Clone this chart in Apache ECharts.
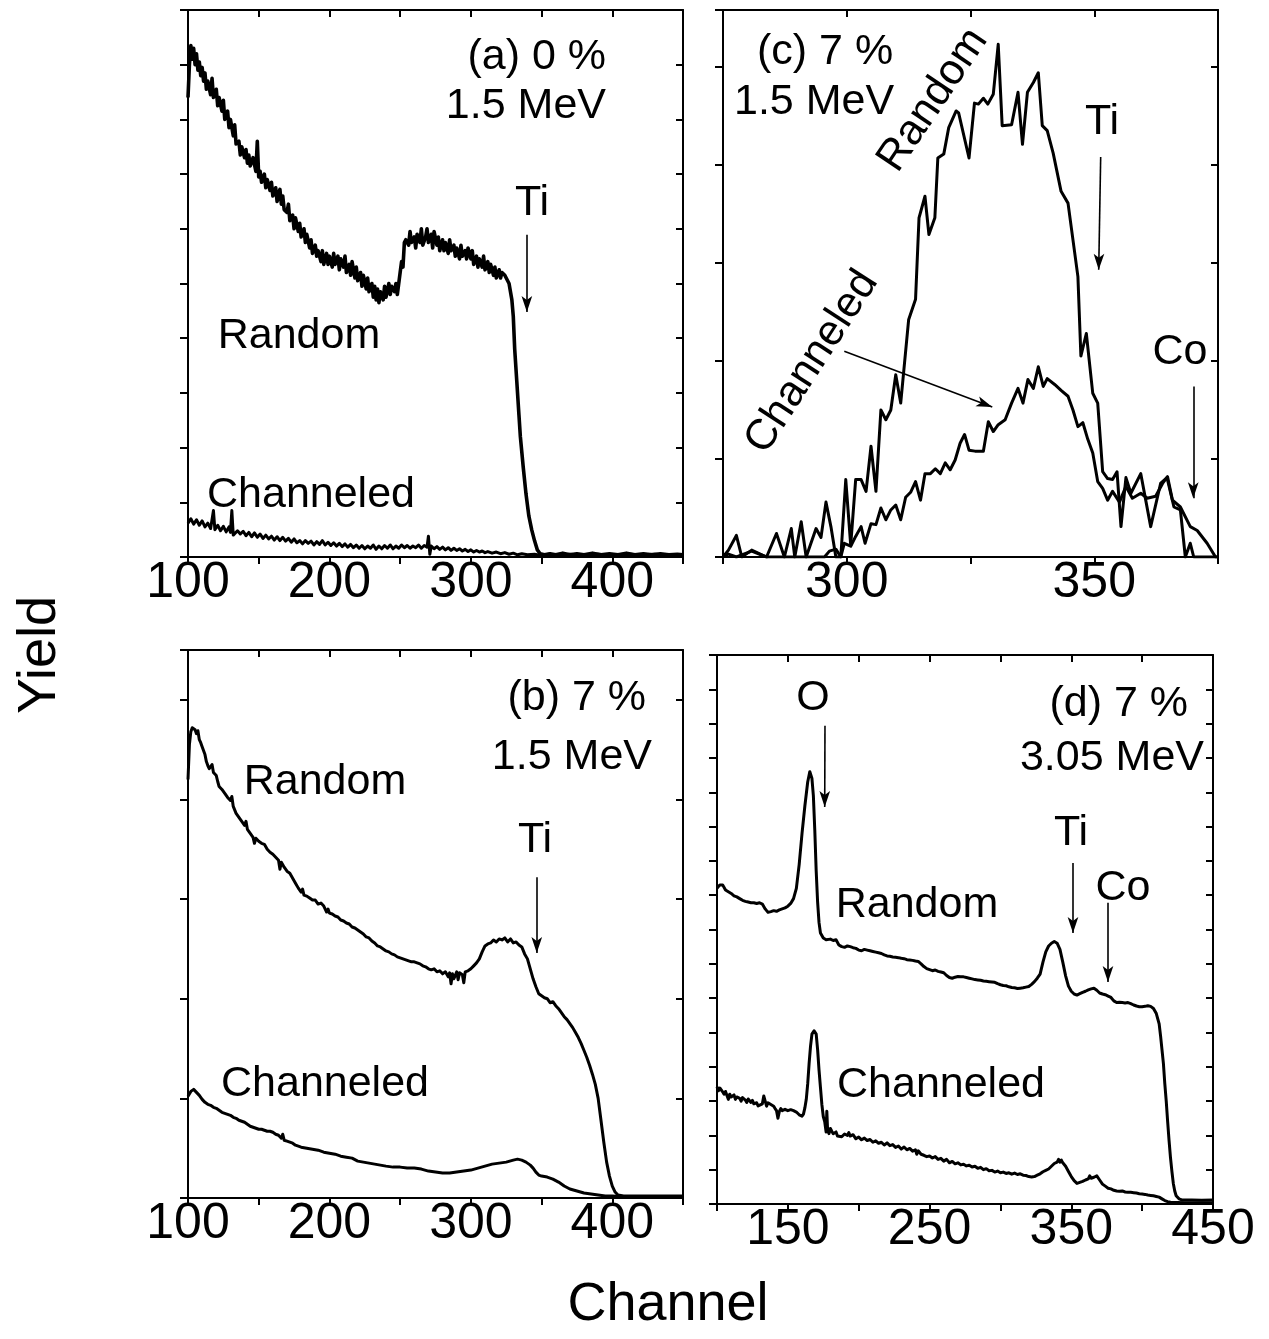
<!DOCTYPE html>
<html><head><meta charset="utf-8">
<script src="https://cdn.jsdelivr.net/npm/echarts@6/dist/echarts.min.js"></script>
<style>html,body{margin:0;padding:0;background:#fff}#c{width:1269px;height:1339px}</style>
</head><body><div id="c"></div>
<script>
// ---------- Panel (a): 0 %, 1.5 MeV ----------
const aRandom = [[100,8.4],[101,9.0],[102,9.35],[103,9.1],[104,9.3],[105,9.0],[106,9.2],[107,8.9],[108,9.05],[109,8.8],[110,8.95],[111,8.7],[112,8.85],[113,8.55],[114,8.7],[116,8.45],[117,8.75],[118,8.4],[120,8.55],[121,8.25],[122,8.4],[124,8.15],[125,8.35],[126,8.0],[128,8.15],[129,7.85],[130,8.0],[132,7.7],[133,7.9],[134,7.55],[136,7.6],[137,7.35],[138,7.5],[140,7.3],[141,7.45],[142,7.2],[143,7.35],[144,7.15],[146,7.3],[148,7.05],[149,7.6],[150,6.95],[151,7.05],[152,6.85],[154,7.0],[155,6.75],[156,6.9],[158,6.7],[159,6.85],[160,6.6],[162,6.75],[163,6.5],[164,6.65],[165,6.72],[166,6.45],[167,6.6],[168,6.35],[170,6.3],[171,6.45],[172,6.15],[174,6.25],[175,6.0],[176,6.2],[178,5.95],[179,6.1],[180,5.85],[182,6.0],[183,5.75],[184,5.9],[186,5.65],[187,5.8],[188,5.55],[190,5.7],[191,5.5],[192,5.6],[194,5.4],[195,5.6],[196,5.35],[198,5.55],[199,5.35],[200,5.5],[202,5.3],[203,5.55],[204,5.35],[206,5.5],[207,5.25],[208,5.45],[210,5.3],[211,5.5],[212,5.2],[214,5.35],[215,5.15],[216,5.4],[218,5.1],[219,5.3],[220,5.05],[222,5.2],[223,4.95],[224,5.15],[226,4.9],[227,5.1],[228,4.85],[230,5.0],[231,4.75],[232,4.95],[233,4.7],[234,4.9],[235,4.65],[236,4.85],[238,4.7],[239,4.95],[240,4.75],[242,5.0],[243,4.8],[244,4.95],[246,4.85],[247,5.0],[248,4.8],[250,5.2],[251,5.4],[252,5.3],[253,5.75],[254,5.8],[256,5.7],[257,5.95],[258,5.75],[260,5.85],[261,5.65],[262,5.9],[264,5.75],[265,6.0],[266,5.7],[268,5.85],[269,6.0],[270,5.75],[272,5.9],[273,5.65],[274,5.95],[276,5.7],[277,5.85],[278,5.6],[280,5.8],[281,5.6],[282,5.75],[284,5.55],[285,5.8],[286,5.6],[288,5.7],[289,5.5],[290,5.65],[292,5.45],[293,5.7],[294,5.5],[296,5.6],[297,5.45],[298,5.65],[300,5.45],[301,5.6],[302,5.35],[304,5.5],[305,5.3],[306,5.45],[308,5.3],[309,5.5],[310,5.25],[312,5.4],[313,5.2],[314,5.35],[316,5.15],[317,5.3],[318,5.1],[320,5.25],[321,5.1],[322,5.2],[324,5.15],[326,5.05],[327,5.0],[329,4.7],[330,4.4],[331,3.8],[332.5,3.2],[334,2.6],[335,2.2],[337,1.65],[339,1.15],[341,0.75],[343,0.5],[345,0.3],[347,0.13],[349,0.06],[352,0.04],[356,0.06],[360,0.04],[365,0.07],[370,0.04],[375,0.06],[380,0.04],[386,0.07],[392,0.04],[398,0.06],[404,0.04],[410,0.07],[416,0.04],[422,0.06],[428,0.04],[434,0.06],[440,0.04],[446,0.05],[450,0.04]];
const aChanneled = [[100,0.62],[102,0.7],[104,0.6],[106,0.68],[108,0.58],[110,0.66],[112,0.55],[114,0.62],[116,0.52],[118,0.85],[119,0.5],[121,0.58],[123,0.48],[125,0.56],[127,0.46],[129,0.55],[130,0.45],[131,0.85],[132,0.4],[135,0.48],[137,0.42],[139,0.47],[141,0.39],[143,0.45],[145,0.37],[147,0.44],[149,0.36],[151,0.42],[153,0.34],[155,0.4],[157,0.33],[159,0.38],[161,0.31],[163,0.37],[165,0.3],[167,0.36],[169,0.29],[171,0.34],[173,0.27],[175,0.33],[177,0.26],[179,0.3],[181,0.24],[183,0.3],[185,0.25],[187,0.29],[189,0.22],[191,0.28],[193,0.23],[195,0.3],[197,0.22],[199,0.27],[201,0.21],[203,0.26],[205,0.2],[207,0.25],[209,0.19],[211,0.24],[213,0.18],[215,0.23],[217,0.17],[219,0.22],[221,0.16],[223,0.21],[225,0.15],[227,0.2],[229,0.16],[231,0.22],[233,0.14],[235,0.2],[237,0.15],[239,0.21],[241,0.16],[243,0.22],[245,0.15],[247,0.2],[249,0.16],[251,0.22],[253,0.17],[255,0.21],[257,0.16],[259,0.2],[261,0.17],[263,0.22],[265,0.16],[267,0.21],[269,0.18],[270,0.38],[271,0.05],[272,0.2],[274,0.15],[276,0.19],[278,0.14],[280,0.18],[282,0.13],[284,0.17],[286,0.12],[288,0.16],[290,0.12],[292,0.15],[294,0.11],[296,0.14],[298,0.1],[300,0.13],[302,0.09],[304,0.12],[306,0.09],[308,0.11],[310,0.08],[312,0.1],[315,0.07],[318,0.09],[321,0.06],[324,0.08],[327,0.05],[330,0.07],[333,0.04],[336,0.06],[340,0.04],[345,0.05],[350,0.03],[355,0.05],[360,0.03],[370,0.05],[380,0.03],[390,0.05],[400,0.03],[410,0.05],[420,0.04],[430,0.05],[440,0.03],[450,0.04]];

// ---------- Panel (c): 7 %, 1.5 MeV (zoom) ----------
const cRandom = [[275,0.0],[276.1,0.07],[277.7,0.22],[278.8,0.0],[280.8,0.07],[283.8,0.0],[285.8,0.24],[287.4,0.0],[288.8,0.29],[289.5,0.0],[290.8,0.36],[291.8,0.0],[293.8,0.29],[294.8,0.2],[295.8,0.56],[296.8,0.31],[297.8,0.0],[298.8,0.0],[299.8,0.79],[300.8,0.12],[301.8,0.79],[302.9,0.79],[303.9,0.67],[304.9,1.13],[305.9,0.67],[306.9,1.5],[307.9,1.4],[308.9,1.5],[309.9,1.86],[310.9,1.57],[312.5,2.42],[313.9,2.63],[314.6,3.46],[315.8,3.68],[316.6,3.29],[317.8,3.46],[318.4,4.07],[319.6,4.11],[320.6,4.38],[322.1,4.55],[322.6,4.53],[324.7,4.07],[325.8,4.63],[326.6,4.62],[327.6,4.68],[328.5,4.62],[329.6,4.72],[330.6,5.23],[331.4,4.4],[333.3,4.41],[334.6,4.74],[335.5,4.21],[336.5,4.74],[337.7,4.84],[338.7,4.94],[339.5,4.4],[340.5,4.35],[341.7,4.12],[343.3,3.73],[344.7,3.61],[346.7,2.86],[347.3,2.05],[348.4,2.28],[349.7,1.67],[350.7,1.57],[351.7,0.87],[352.7,0.8],[353.7,0.79],[354.6,0.87],[355.4,0.31],[356.4,0.81],[357.4,0.65],[359.4,0.85],[361.4,0.31],[363.4,0.75],[364.7,0.81],[366.1,0.51],[367.4,0.48],[368.4,0.0],[369.4,0.14],[370.1,0.0],[375,0.0]];
const cChanneled = [[275,0.01],[276.1,0.03],[277.7,0.0],[280.8,0.06],[283.8,0.0],[290,0.0],[295.5,0.0],[296.5,0.06],[297.8,0.08],[298.8,0.0],[299.5,0.14],[300.8,0.11],[301.8,0.21],[302.9,0.31],[303.7,0.14],[304.9,0.34],[305.9,0.33],[306.9,0.5],[307.9,0.38],[308.9,0.48],[309.9,0.53],[310.9,0.38],[311.9,0.61],[312.9,0.66],[313.9,0.77],[314.9,0.58],[315.8,0.85],[316.9,0.85],[317.9,0.9],[318.9,0.85],[319.9,0.96],[320.9,0.89],[321.9,0.99],[322.9,1.16],[323.8,1.25],[324.7,1.09],[325.9,1.08],[327.6,1.08],[328.6,1.38],[329.6,1.28],[330.6,1.35],[332.0,1.4],[333.3,1.57],[334.6,1.72],[335.6,1.57],[336.6,1.81],[337.7,1.72],[338.7,1.94],[339.7,1.74],[340.5,1.82],[342.0,1.76],[343.3,1.7],[344.7,1.64],[345.7,1.5],[346.7,1.33],[347.7,1.37],[348.7,1.2],[349.7,1.06],[350.7,0.77],[351.7,0.7],[352.7,0.58],[353.7,0.67],[355.1,0.56],[356.4,0.72],[357.7,0.6],[359.4,0.65],[360.7,0.6],[362.4,0.62],[363.8,0.75],[364.8,0.82],[365.8,0.58],[367.4,0.51],[369.4,0.31],[370.8,0.27],[372.8,0.14],[374.5,0.0],[375,0.0]];

// ---------- Panel (b): 7 %, 1.5 MeV ----------
const bRandom = [[100,4.2],[101,4.55],[102,4.68],[103,4.72],[104,4.73],[105,4.7],[106,4.66],[107,4.69],[108,4.6],[109,4.57],[110,4.53],[112,4.45],[113,4.38],[114,4.34],[115,4.31],[116,4.3],[117,4.35],[118,4.27],[120,4.24],[121,4.18],[122,4.13],[124,4.1],[126,4.06],[128,4.02],[130,3.99],[131,4.03],[132,3.93],[134,3.86],[136,3.82],[138,3.78],[140,3.74],[141,3.78],[142,3.7],[144,3.66],[146,3.62],[147,3.56],[148,3.61],[150,3.58],[152,3.56],[154,3.55],[156,3.5],[158,3.47],[160,3.45],[162,3.42],[164,3.39],[165,3.3],[166,3.37],[168,3.32],[170,3.28],[172,3.26],[174,3.21],[176,3.16],[178,3.11],[180,3.07],[181,3.1],[182,3.04],[184,3.03],[186,3.01],[188,2.99],[190,2.99],[192,2.95],[194,2.96],[196,2.93],[198,2.87],[199,2.9],[200,2.86],[202,2.85],[204,2.83],[206,2.82],[208,2.79],[210,2.78],[212,2.76],[214,2.75],[216,2.72],[218,2.71],[220,2.69],[222,2.67],[224,2.65],[226,2.62],[228,2.61],[230,2.58],[232,2.56],[234,2.53],[236,2.52],[238,2.5],[240,2.48],[242,2.47],[244,2.45],[246,2.44],[248,2.42],[250,2.41],[252,2.4],[254,2.39],[256,2.38],[258,2.37],[260,2.37],[262,2.36],[264,2.35],[266,2.33],[268,2.32],[270,2.3],[272,2.29],[274,2.3],[276,2.27],[278,2.28],[280,2.25],[282,2.27],[284,2.22],[285,2.26],[286,2.15],[287,2.25],[288,2.2],[290,2.27],[291,2.19],[292,2.26],[294,2.24],[295,2.16],[296,2.27],[298,2.28],[300,2.3],[302,2.33],[304,2.36],[306,2.4],[308,2.47],[310,2.53],[312,2.55],[314,2.56],[316,2.59],[318,2.57],[320,2.6],[322,2.59],[324,2.61],[326,2.57],[328,2.6],[330,2.56],[332,2.57],[334,2.54],[336,2.52],[338,2.45],[340,2.4],[342,2.3],[344,2.2],[346,2.12],[348,2.05],[350,2.03],[352,2.01],[354,2.0],[356,1.96],[358,1.97],[360,1.93],[362,1.9],[364,1.86],[366,1.82],[368,1.79],[370,1.75],[372,1.71],[374,1.66],[376,1.61],[378,1.55],[380,1.48],[382,1.41],[384,1.33],[386,1.24],[388,1.14],[390,1.0],[392,0.78],[394,0.56],[396,0.36],[398,0.22],[400,0.12],[402,0.06],[404,0.03],[408,0.02],[420,0.02],[435,0.02],[450,0.02]];
const bChanneled = [[100,1.02],[102,1.07],[104,1.09],[106,1.06],[108,1.03],[110,0.99],[112,0.96],[114,0.94],[116,0.93],[118,0.91],[120,0.9],[122,0.88],[124,0.86],[126,0.85],[128,0.84],[130,0.83],[132,0.81],[134,0.8],[136,0.78],[138,0.77],[140,0.76],[142,0.74],[144,0.72],[146,0.71],[148,0.7],[150,0.69],[152,0.69],[154,0.68],[156,0.67],[158,0.67],[160,0.66],[162,0.64],[164,0.63],[166,0.6],[167,0.64],[168,0.58],[170,0.57],[172,0.56],[174,0.55],[176,0.53],[178,0.52],[180,0.51],[184,0.5],[188,0.49],[192,0.48],[196,0.46],[200,0.45],[204,0.44],[208,0.42],[212,0.41],[216,0.4],[220,0.37],[224,0.36],[228,0.35],[232,0.34],[236,0.33],[240,0.32],[245,0.31],[250,0.31],[255,0.3],[260,0.3],[265,0.29],[270,0.27],[275,0.26],[280,0.25],[285,0.25],[290,0.26],[295,0.27],[300,0.28],[305,0.3],[310,0.32],[315,0.34],[320,0.35],[325,0.36],[330,0.38],[333,0.39],[336,0.38],[339,0.36],[342,0.33],[344,0.3],[346,0.26],[348,0.23],[350,0.22],[354,0.21],[358,0.19],[362,0.16],[366,0.12],[370,0.09],[375,0.07],[380,0.05],[385,0.04],[390,0.03],[395,0.02],[400,0.02],[410,0.01],[430,0.01],[450,0.01]];

// ---------- Panel (d): 7 %, 3.05 MeV ----------
const dRandom = [[100,9.2],[102,9.3],[104,9.3],[106,9.15],[108,9.1],[110,9.05],[112,8.98],[114,8.95],[116,8.9],[118,8.85],[120,8.82],[122,8.8],[124,8.78],[126,8.78],[128,8.76],[130,8.78],[132,8.74],[134,8.6],[136,8.5],[138,8.52],[140,8.55],[142,8.53],[144,8.57],[146,8.6],[148,8.63],[150,8.68],[152,8.76],[154,8.9],[156,9.2],[158,9.9],[160,10.8],[162,11.6],[164,12.3],[165.5,12.6],[167,12.4],[168,11.9],[169,10.9],[170,9.7],[171,8.8],[172,8.2],[173,7.9],[175,7.75],[177,7.7],[180,7.72],[182,7.68],[184,7.7],[186,7.55],[188,7.5],[190,7.48],[192,7.52],[194,7.5],[196,7.47],[198,7.45],[200,7.4],[202,7.38],[204,7.42],[206,7.4],[208,7.38],[210,7.36],[212,7.34],[214,7.32],[216,7.3],[218,7.26],[220,7.23],[222,7.22],[224,7.2],[226,7.19],[228,7.18],[230,7.16],[232,7.15],[234,7.12],[236,7.11],[238,7.1],[240,7.08],[242,7.07],[244,7.0],[246,6.92],[248,6.86],[250,6.83],[252,6.8],[254,6.82],[256,6.78],[258,6.76],[260,6.74],[262,6.66],[264,6.6],[266,6.58],[268,6.61],[270,6.63],[272,6.62],[274,6.62],[276,6.6],[278,6.58],[280,6.56],[282,6.54],[284,6.53],[286,6.52],[288,6.5],[290,6.49],[292,6.48],[294,6.47],[296,6.46],[298,6.42],[300,6.39],[302,6.37],[304,6.36],[306,6.33],[308,6.31],[310,6.3],[312,6.28],[314,6.29],[316,6.3],[318,6.32],[320,6.34],[322,6.4],[324,6.48],[326,6.58],[328,6.7],[330,7.05],[332,7.35],[334,7.52],[336,7.6],[338,7.65],[340,7.6],[342,7.42],[344,7.05],[346,6.65],[348,6.35],[350,6.2],[352,6.12],[354,6.09],[356,6.13],[358,6.17],[360,6.2],[362,6.24],[364,6.27],[366,6.29],[368,6.23],[370,6.15],[372,6.12],[374,6.1],[376,6.06],[378,6.02],[380,5.92],[382,5.87],[384,5.88],[386,5.87],[388,5.86],[390,5.87],[392,5.84],[394,5.8],[396,5.77],[398,5.75],[400,5.75],[402,5.76],[404,5.78],[406,5.76],[408,5.7],[410,5.55],[412,5.25],[413,4.9],[414,4.5],[415,4.1],[416,3.5],[417,3.0],[418,2.4],[419,1.85],[420,1.35],[421,0.95],[422,0.6],[423,0.38],[424,0.24],[426,0.15],[428,0.12],[435,0.12],[442,0.11],[450,0.12]];
const dChanneled = [[100,3.42],[101,3.3],[102,3.38],[104,3.27],[105,3.2],[106,3.28],[108,3.05],[109,3.2],[110,3.12],[112,3.18],[113,3.05],[114,3.12],[116,3.08],[117,3.0],[118,3.1],[120,3.03],[121,2.96],[122,3.06],[124,2.96],[125,3.02],[126,2.92],[128,2.95],[129,2.86],[130,2.9],[132,2.92],[133,3.15],[134,3.0],[135,2.85],[136,2.95],[138,2.9],[140,2.85],[141,2.78],[142,2.72],[143,2.5],[144,2.7],[145,2.78],[146,2.72],[148,2.76],[150,2.72],[152,2.75],[154,2.72],[156,2.68],[158,2.6],[160,2.56],[161,2.62],[162,2.8],[163,3.05],[164,3.5],[165,4.1],[166,4.6],[167,4.95],[168.5,5.05],[170,4.95],[171,4.5],[172,3.9],[173,3.4],[174,2.9],[175,2.55],[176,2.4],[177,2.1],[177.5,2.7],[178,2.2],[179,2.05],[180,2.2],[181,2.12],[182,2.05],[184,2.1],[185,1.98],[186,2.02],[188,1.96],[190,2.04],[192,2.0],[193,2.08],[194,1.98],[196,2.02],[198,1.9],[200,1.95],[202,1.87],[204,1.92],[206,1.85],[208,1.88],[210,1.8],[212,1.84],[214,1.77],[216,1.8],[218,1.72],[220,1.78],[222,1.7],[224,1.73],[226,1.65],[228,1.69],[230,1.6],[232,1.66],[234,1.58],[236,1.62],[238,1.54],[240,1.58],[241,1.45],[242,1.55],[244,1.45],[246,1.42],[248,1.38],[250,1.4],[252,1.34],[254,1.38],[256,1.3],[258,1.33],[260,1.25],[262,1.3],[264,1.2],[266,1.24],[268,1.17],[270,1.2],[272,1.14],[274,1.16],[276,1.11],[278,1.13],[280,1.08],[282,1.1],[284,1.04],[286,1.07],[288,1.0],[290,1.03],[292,0.97],[294,0.98],[296,0.93],[298,0.96],[300,0.91],[302,0.93],[304,0.89],[306,0.91],[308,0.87],[310,0.9],[312,0.86],[314,0.88],[316,0.84],[318,0.83],[320,0.8],[322,0.79],[324,0.8],[326,0.84],[328,0.88],[330,0.94],[332,0.98],[334,1.02],[336,1.1],[338,1.18],[340,1.22],[341,1.3],[342,1.22],[343,1.28],[344,1.2],[346,1.1],[348,0.95],[350,0.8],[352,0.68],[354,0.6],[356,0.63],[358,0.66],[360,0.7],[362,0.73],[363,0.82],[364,0.75],[366,0.78],[368,0.82],[370,0.7],[372,0.58],[374,0.52],[376,0.46],[378,0.44],[380,0.4],[382,0.38],[384,0.37],[386,0.38],[388,0.35],[390,0.34],[392,0.34],[394,0.33],[396,0.32],[398,0.3],[400,0.29],[402,0.28],[404,0.26],[406,0.25],[408,0.24],[410,0.22],[412,0.2],[414,0.15],[416,0.1],[418,0.07],[420,0.05],[430,0.04],[440,0.04],[450,0.04]];

// tick label sets
const abTickLabels = [100, 200, 300, 400];
const cTickLabels = [300, 350];
const dTickLabels = [150, 250, 350, 450];

// arrows [x1,y1,x2,y2] in data units
const aArrows = [[339.6, 5.89, 339.6, 4.48]];
const cArrows = [[351.3, 4.08, 350.9, 2.93], [370, 1.74, 370, 0.6], [299.5, 2.1, 329.4, 1.53]];
const bArrows = [[346.6, 3.22, 346.6, 2.46]];
const dArrows = [[176.2, 13.94, 176.0, 11.57], [351.2, 9.94, 351.2, 7.9], [375.9, 8.78, 375.9, 6.47]];

const FONT = '"Liberation Sans", Arial, Helvetica, sans-serif';
const grids = [
  {left: 188, top: 10, width: 495, height: 547},
  {left: 723, top: 10, width: 495, height: 547},
  {left: 188, top: 650, width: 495, height: 548},
  {left: 717, top: 655, width: 496, height: 549}
];
const xSpec = [
  {min: 100, max: 450, interval: 50, labels: abTickLabels},
  {min: 275, max: 375, interval: 25, labels: cTickLabels},
  {min: 100, max: 450, interval: 50, labels: abTickLabels},
  {min: 100, max: 450, interval: 50, labels: dTickLabels}
];
const ySpec = [
  {min: 0, max: 10, interval: 1},
  {min: 0, max: 5.58, interval: 1},
  {min: 0, max: 5.5, interval: 1},
  {min: 0, max: 16, interval: 1}
];
const lineSt = {color: '#000', width: 2};
const xAxis = [], yAxis = [];
xSpec.forEach((s, gi) => {
  xAxis.push({type: 'value', gridIndex: gi, position: 'bottom', min: s.min, max: s.max, interval: s.interval,
    axisLine: {show: true, onZero: false, lineStyle: lineSt},
    axisTick: {show: true, inside: false, length: 7, lineStyle: lineSt},
    axisLabel: {show: true, color: '#000', fontSize: 50, fontFamily: FONT, margin: 1, showMinLabel: true, showMaxLabel: true,
      formatter: v => s.labels.includes(v) ? String(v) : ''},
    splitLine: {show: false}});
  xAxis.push({type: 'value', gridIndex: gi, position: 'top', min: s.min, max: s.max, interval: s.interval,
    axisLine: {show: true, onZero: false, lineStyle: lineSt},
    axisTick: {show: true, inside: true, length: 7, lineStyle: lineSt},
    axisLabel: {show: false}, splitLine: {show: false}});
});
ySpec.forEach((s, gi) => {
  yAxis.push({type: 'value', gridIndex: gi, position: 'left', min: s.min, max: s.max, interval: s.interval,
    axisLine: {show: true, onZero: false, lineStyle: lineSt},
    axisTick: {show: true, inside: false, length: 8, lineStyle: lineSt},
    axisLabel: {show: false}, splitLine: {show: false}});
  yAxis.push({type: 'value', gridIndex: gi, position: 'right', min: s.min, max: s.max, interval: s.interval,
    axisLine: {show: true, onZero: false, lineStyle: lineSt},
    axisTick: {show: true, inside: true, length: 7, lineStyle: lineSt},
    axisLabel: {show: false}, splitLine: {show: false}});
});

function arrowMark(list) {
  return {silent: true, symbol: ['none', 'arrow'], symbolSize: [8, 16], animation: false,
    lineStyle: {color: '#000', width: 1.6, type: 'solid'}, label: {show: false},
    data: list.map(a => [{coord: [a[0], a[1]]}, {coord: [a[2], a[3]]}])};
}
function line(data, gi, w, arrows) {
  const s = {type: 'line', data: data, xAxisIndex: 2 * gi, yAxisIndex: 2 * gi, showSymbol: false, symbol: 'none',
    clip: true, animation: false, lineStyle: {color: '#000', width: w, join: 'round'}, z: 3};
  if (arrows) s.markLine = arrowMark(arrows);
  return s;
}
const series = [
  line(aRandom, 0, 3.6, aArrows), line(aChanneled, 0, 3),
  line(cRandom, 1, 3, cArrows), line(cChanneled, 1, 3),
  line(bRandom, 2, 3, bArrows), line(bChanneled, 2, 3),
  line(dRandom, 3, 3, dArrows), line(dChanneled, 3, 3)
];

function txt(text, x, y, size, align, rot) {
  return {type: 'text', x: x, y: y, rotation: rot || 0, z: 10,
    style: {text: text, fill: '#000', fontSize: size, fontFamily: FONT,
      textAlign: align || 'center', textVerticalAlign: 'middle', align: align || 'center', verticalAlign: 'middle'}};
}
const F = 43;
const graphic = [
  txt('(a) 0 %', 606, 57, F, 'right'), txt('1.5 MeV', 606, 106, F, 'right'),
  txt('Ti', 532, 203, F), txt('Random', 299, 336, F), txt('Channeled', 311, 495, F),
  txt('(c) 7 %', 757, 52, F, 'left'), txt('1.5 MeV', 734, 102, F, 'left'),
  txt('Random', 933, 100, F, 'center', 56 * Math.PI / 180),
  txt('Channeled', 812, 362, F, 'center', 57 * Math.PI / 180),
  txt('Ti', 1102, 122, F), txt('Co', 1180, 352, F),
  txt('(b) 7 %', 646, 698, F, 'right'), txt('1.5 MeV', 652, 757, F, 'right'),
  txt('Random', 325, 782, F), txt('Ti', 535, 840, F), txt('Channeled', 325, 1084, F),
  txt('O', 813, 698, F), txt('(d) 7 %', 1188, 704, F, 'right'), txt('3.05 MeV', 1204, 758, F, 'right'),
  txt('Ti', 1071, 833, F), txt('Co', 1123, 888, F), txt('Random', 917, 905, F), txt('Channeled', 941, 1085, F),
  txt('Yield', 40, 655, 54, 'center', Math.PI / 2),
  txt('Channel', 668, 1305, 54)
];

const chart = echarts.init(document.getElementById('c'), null, {renderer: 'canvas'});
chart.setOption({
  animation: false, backgroundColor: '#fff',
  grid: grids.map(g => Object.assign({containLabel: false}, g)),
  xAxis: xAxis, yAxis: yAxis, series: series, graphic: graphic
});
</script></body></html>
